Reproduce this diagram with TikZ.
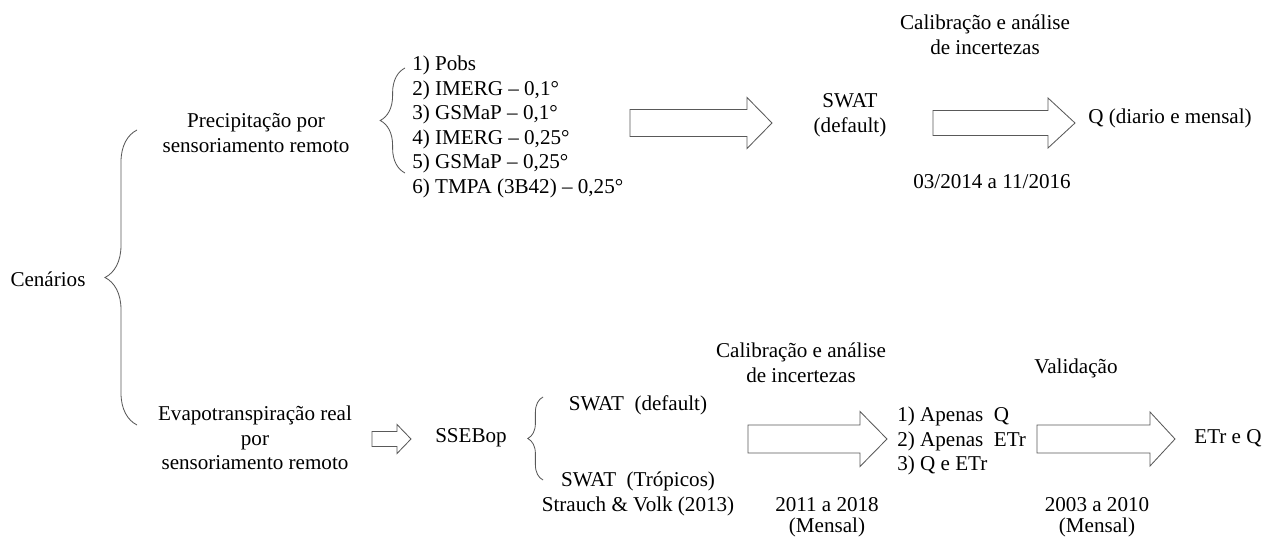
\documentclass[tikz,border=0pt]{standalone}
\usepackage{fontspec}
\setmainfont{Liberation Serif}
\usetikzlibrary{calc,decorations.pathreplacing}
\tikzset{
  txt/.style={inner sep=0pt, align=center, font=\fontsize{15}{17.5}\selectfont},
  lst/.style={txt, align=left, anchor=west},
  periodo/.style={txt, font=\fontsize{15}{15}\selectfont},
  blockline/.style={draw=black!65, line width=0.6pt},
  chave/.style={draw=black!65, line width=0.6pt, decorate, decoration={brace, amplitude=#1}},
}
% block arrow: start, end, half shaft, half head, head length (px)
\newcommand{\blockarrow}[5]{%
  \draw[blockline] ($(#1)+(0,#3)$) -- ($(#2)+(-#5,#3)$) -- ($(#2)+(-#5,#4)$) -- (#2)
    -- ($(#2)+(-#5,-#4)$) -- ($(#2)+(-#5,-#3)$) -- ($(#1)+(0,-#3)$) -- cycle;}
\begin{document}
\begin{tikzpicture}[x=0.025cm, y=-0.025cm]
	\useasboundingbox (0,0) rectangle (1269,537);
	% Cenarios
	\node[txt] (cen) at (48,279) {Cenários};
	\draw[chave=0.8cm] (137,425) -- (137,130);
	% Precipitacao
	\node[txt] (prec) at (256,133) {Precipitação por\\sensoriamento remoto};
	\draw[chave=0.62cm] (405,173) -- (405,68);
	\node[lst] (produtos) at (412,127) {1) Pobs\\2) IMERG -- 0,1°\\3) GSMaP -- 0,1°\\4) IMERG -- 0,25°\\5) GSMaP -- 0,25°\\6) TMPA (3B42) -- 0,25°};
	\coordinate (a1s) at (630,123);
	\coordinate (a1e) at (772,123);
	\blockarrow{a1s}{a1e}{13.5}{25.5}{25}
	\node[txt] (swat) at (850,115) {SWAT\\(default)};
	\node[txt] (calib1) at (985,35) {Calibração e análise\\de incertezas};
	\coordinate (a2s) at (933,123);
	\coordinate (a2e) at (1075,123);
	\blockarrow{a2s}{a2e}{12.5}{25}{27}
	\node[txt] (per1) at (992,182) {03/2014 a 11/2016};
	\node[lst] (qout) at (1088,118) {Q (diario e mensal)};
	% Evapotranspiracao
	\node[txt] (evap) at (255,438) {Evapotranspiração real\\por\\sensoriamento remoto};
	\coordinate (a0s) at (372,439);
	\coordinate (a0e) at (411,439);
	\blockarrow{a0s}{a0e}{7.5}{14.5}{14}
	\node[txt] (ssebop) at (471,438) {SSEBop};
	\draw[chave=0.38cm] (543,480) -- (543,397);
	\node[txt] (swatd) at (638,405) {SWAT\ \ (default)};
	\node[txt] (swatt) at (638,494) {SWAT\ \ (Trópicos)\\Strauch \& Volk (2013)};
	\node[txt] (calib2) at (801,363) {Calibração e análise\\de incertezas};
	\coordinate (a3s) at (748,439);
	\coordinate (a3e) at (887,439);
	\blockarrow{a3s}{a3e}{14}{27.5}{27}
	\node[periodo] (per2) at (827,517) {2011 a 2018\\(Mensal)};
	\node[lst] (opcoes) at (897,441) {1) Apenas\ \ Q\\2) Apenas\ \ ETr\\3) Q e ETr};
	\node[txt] (valid) at (1076,368) {Validação};
	\coordinate (a4s) at (1037,439);
	\coordinate (a4e) at (1175,439);
	\blockarrow{a4s}{a4e}{14}{27}{25}
	\node[periodo] (per3) at (1097,517) {2003 a 2010\\(Mensal)};
	\node[txt] (etq) at (1228,438) {ETr e Q};
\end{tikzpicture}
\end{document}
